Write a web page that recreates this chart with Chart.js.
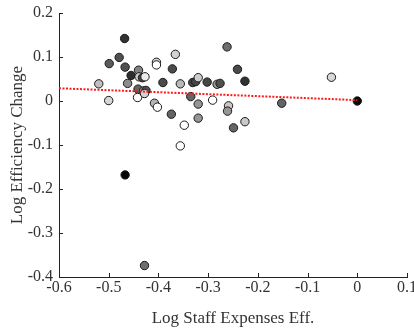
<!DOCTYPE html>
<html>
<head>
<meta charset="utf-8">
<script src="https://cdn.jsdelivr.net/npm/chart.js@4.4.1/dist/chart.umd.min.js"></script>
<style>
  html, body { margin: 0; padding: 0; background: #fff; }
  #wrap { width: 414px; height: 329px; }
</style>
</head>
<body>
<div id="wrap"><canvas id="eff"></canvas></div>
<script>
// staff expenses efficiency vs efficiency change (log scale values)
var staffEff = [-0.520, -0.500, -0.499, -0.479, -0.468, -0.467, -0.455, -0.462, -0.440, -0.439,
                -0.432, -0.427, -0.441, -0.442, -0.430, -0.425, -0.428, -0.404, -0.404, -0.408,
                -0.402, -0.391, -0.374, -0.372, -0.366, -0.356, -0.348, -0.335, -0.331, -0.325,
                -0.320, -0.320, -0.320, -0.302, -0.291, -0.282, -0.276, -0.262, -0.259, -0.261,
                -0.249, -0.241, -0.226, -0.226, -0.152, -0.052, 0.000, -0.356, -0.467, -0.428];
var effChange = [0.039, 0.001, 0.085, 0.099, 0.142, 0.077, 0.058, 0.040, 0.070, 0.055,
                 0.053, 0.055, 0.027, 0.008, 0.023, 0.024, 0.017, 0.088, 0.082, -0.005,
                 -0.014, 0.042, -0.030, 0.073, 0.106, 0.039, -0.055, 0.010, 0.042, 0.044,
                 0.053, -0.007, -0.039, 0.043, 0.002, 0.038, 0.040, 0.123, -0.011, -0.023,
                 -0.061, 0.072, 0.045, -0.047, -0.005, 0.054, 0.000, -0.102, -0.168, -0.374];
// grey level of each marker (0 = black, 255 = white)
var shade = [190, 215, 90, 80, 50, 80, 45, 140, 130, 200,
             70, 235, 100, 255, 150, 80, 210, 215, 255, 180,
             255, 75, 100, 75, 210, 185, 255, 100, 70, 70,
             205, 150, 150, 70, 255, 150, 80, 110, 200, 150,
             100, 75, 50, 200, 100, 215, 10, 255, 5, 110];
var fitX = [-0.6, 0];
var fitY = [0.029, 0.002];

var pts = staffEff.map(function(x, i) { return {x: x, y: effChange[i]}; });
var fills = shade.map(function(g) { return 'rgb(' + g + ',' + g + ',' + g + ')'; });
var fitPts = fitX.map(function(x, i) { return {x: x, y: fitY[i]}; });

// MATLAB style inward ticks
var inwardTicks = {
  id: 'inwardTicks',
  afterDraw: function(chart) {
    var c = chart.ctx, a = chart.chartArea;
    var xs = chart.scales.x, ys = chart.scales.y;
    c.save();
    c.strokeStyle = '#222';
    c.lineWidth = 1;
    c.beginPath();
    xs.ticks.forEach(function(t) {
      var px = Math.round(xs.getPixelForValue(t.value)) + 0.5;
      c.moveTo(px, a.bottom);
      c.lineTo(px, a.bottom - 4);
    });
    ys.ticks.forEach(function(t) {
      var py = Math.round(ys.getPixelForValue(t.value)) + 0.5;
      c.moveTo(a.left, py);
      c.lineTo(a.left + 4, py);
    });
    c.stroke();
    c.restore();
  }
};

function fmt(v) { return Math.abs(v) < 1e-9 ? '0' : (+v.toFixed(1)).toString(); }

var font = 'Liberation Serif';
new Chart(document.getElementById('eff').getContext('2d'), {
  type: 'scatter',
  data: {
    datasets: [{
      data: fitPts,
      showLine: true,
      borderColor: '#ff1a1a',
      borderWidth: 2,
      borderDash: [2, 1.5],
      pointRadius: 0,
      order: 0
    }, {
      data: pts,
      backgroundColor: fills,
      borderColor: '#1a1a1a',
      borderWidth: 1,
      pointRadius: 4.2,
      order: 1
    }]
  },
  options: {
    responsive: true,
    maintainAspectRatio: false,
    animation: false,
    layout: { padding: { top: 13, right: 7, left: 0, bottom: 0 } },
    plugins: { legend: { display: false }, tooltip: { enabled: false } },
    scales: {
      x: {
        min: -0.6, max: 0.1,
        ticks: { stepSize: 0.1, color: '#333', font: { family: font, size: 16 }, padding: 1,
                 maxRotation: 0, callback: fmt },
        grid: { display: false, drawTicks: false },
        border: { color: '#222', width: 1 },
        title: { display: true, text: 'Log Staff Expenses Eff.', color: '#333',
                 font: { family: font, size: 17 }, padding: { top: 0, bottom: 0 } },
        // let the last label run past the plot edge
        afterFit: function(s) { s.height = 52; s.paddingLeft = 0; s.paddingRight = 0; }
      },
      y: {
        min: -0.4, max: 0.2,
        ticks: { stepSize: 0.1, color: '#333', font: { family: font, size: 16 }, padding: 6,
                 callback: fmt },
        grid: { display: false, drawTicks: false },
        border: { color: '#222', width: 1 },
        title: { display: true, text: 'Log Efficiency Change', color: '#333',
                 font: { family: font, size: 17 }, padding: { top: 7, bottom: 0 } },
        afterFit: function(s) { s.width = 59; s.paddingTop = 0; s.paddingBottom = 0; }
      }
    }
  },
  plugins: [inwardTicks]
});
</script>
</body>
</html>
